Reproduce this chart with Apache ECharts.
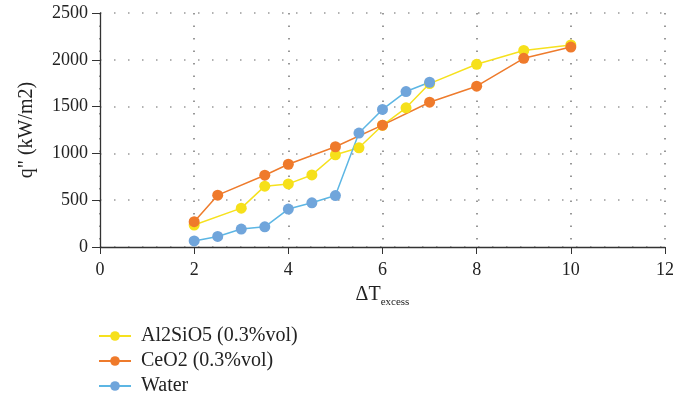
<!DOCTYPE html>
<html>
<head>
<meta charset="utf-8">
<script src="https://cdn.jsdelivr.net/npm/echarts@6/dist/echarts.min.js"></script>
<style>
  html, body { margin: 0; padding: 0; background: #fff; }
  #chart { width: 677px; height: 400px; }
</style>
</head>
<body>
<div id="chart"></div>
<script>
// values
const seriesNames = ['Al2SiO5 (0.3%vol)', 'CeO2 (0.3%vol)', 'Water']
const al2sio5 = [[2, 235], [3, 415], [3.5, 650], [4, 674], [4.5, 770], [5, 985], [5.5, 1060], [6, 1300], [6.5, 1487], [7, 1746], [8, 1952], [9, 2100], [10, 2158]]
const ceo2 = [[2, 270], [2.5, 554], [3.5, 767], [4, 884], [5, 1071], [6, 1302], [7, 1547], [8, 1718], [9, 2016], [10, 2136]]
const water = [[2, 65], [2.5, 113], [3, 192], [3.5, 216], [4, 405], [4.5, 472], [5, 550], [5.5, 1217], [6, 1470], [6.5, 1661], [7, 1760]]

const font = '"Liberation Serif", "DejaVu Serif", serif'
const lineColors = ['#f6e11e', '#ee7b2c', '#5cb6e4']
const dotColors = ['#f6e01a', '#ef7a2b', '#70a5db']

const chart = echarts.init(document.getElementById('chart'))

const makeSeries = (name, data, i) => ({
  name: name,
  type: 'line',
  data: data,
  symbol: 'circle',
  symbolSize: 11,
  lineStyle: { color: lineColors[i], width: 1.5 },
  itemStyle: { color: dotColors[i] },
  emphasis: { disabled: true },
  animation: false,
})

chart.setOption({
  backgroundColor: '#fff',
  textStyle: { fontFamily: font },
  grid: { left: 100, right: 12, top: 13, bottom: 153 },
  legend: {
    orient: 'vertical',
    left: 98,
    top: 326,
    padding: 0,
    itemWidth: 32,
    itemHeight: 12,
    itemGap: 5,
    textStyle: { fontFamily: font, fontSize: 20, lineHeight: 20, color: '#222', padding: [0, 0, 0, 5] },
    data: seriesNames,
  },
  xAxis: {
    type: 'value',
    min: 0,
    max: 12,
    interval: 2,
    name: '{a|ΔT}{b|excess}',
    nameLocation: 'middle',
    nameGap: 34,
    nameTextStyle: {
      rich: {
        a: { fontFamily: font, fontSize: 20, color: '#222' },
        b: { fontFamily: font, fontSize: 11, color: '#222', padding: [16, 0, 0, 0] },
      },
    },
    axisLine: { lineStyle: { color: '#333', width: 1.3 } },
    axisTick: { show: true, length: 7, lineStyle: { color: '#333' } },
    axisLabel: { fontFamily: font, fontSize: 18, color: '#222', margin: 14 },
    splitLine: { show: true, lineStyle: { color: '#777', type: [1.5, 11], width: 1.5 } },
  },
  yAxis: {
    type: 'value',
    min: 0,
    max: 2500,
    interval: 500,
    name: 'q" (kW/m2)',
    nameLocation: 'middle',
    nameGap: 63,
    nameTextStyle: { fontFamily: font, fontSize: 20, color: '#222' },
    axisLine: { show: true, lineStyle: { color: '#333', width: 1.3 } },
    axisTick: { show: true, length: 8, lineStyle: { color: '#333' } },
    axisLabel: { fontFamily: font, fontSize: 18, color: '#222', margin: 12, formatter: (v) => String(v) },
    splitLine: { show: true, lineStyle: { color: '#999', type: [1.5, 12.5], width: 1.5 } },
  },
  series: [
    makeSeries(seriesNames[0], al2sio5, 0),
    makeSeries(seriesNames[1], ceo2, 1),
    makeSeries(seriesNames[2], water, 2),
  ],
})
</script>
</body>
</html>
